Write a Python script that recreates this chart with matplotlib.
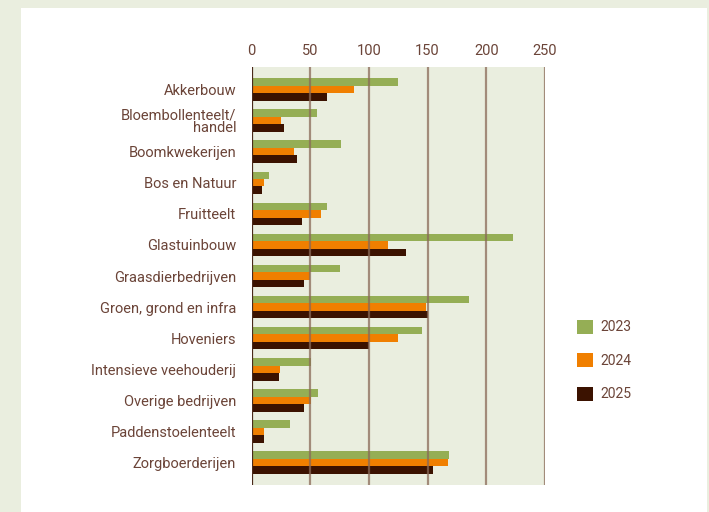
import numpy as np
import matplotlib.pyplot as plt
from matplotlib.patches import Rectangle

plt.rcParams["font.family"] = ["Roboto", "DejaVu Sans"]

categories = ["Akkerbouw", "Bloembollenteelt/\nhandel", "Boomkwekerijen", "Bos en Natuur",
              "Fruitteelt", "Glastuinbouw", "Graasdierbedrijven", "Groen, grond en infra",
              "Hoveniers", "Intensieve veehouderij", "Overige bedrijven",
              "Paddenstoelenteelt", "Zorgboerderijen"]
years = ["2023", "2024", "2025"]
v2023 = [125, 56, 76, 15, 64, 223, 75, 185, 145, 51, 57, 33, 168]
v2024 = [87, 25, 36, 11, 59, 116, 50, 149, 125, 24, 51, 11, 167]
v2025 = [64, 28, 39, 9, 43, 132, 45, 150, 100, 23, 45, 11, 155]
ticks = [0, 50, 100, 150, 200, 250]

colors = ["#95ae55", "#f07f00", "#3b1200"]
text_col = "#6b4438"
grid_col = "#8a6a58"
bg = "#eaeedf"

fig = plt.figure(figsize=(7.09, 5.12), dpi=100)
fig.patch.set_facecolor(bg)
# white panel
fig.add_artist(Rectangle((21 / 709, 0), (707 - 21) / 709, 1 - 8 / 512,
                         transform=fig.transFigure, facecolor="white",
                         edgecolor="none", zorder=0))

ax = fig.add_axes([251.5 / 709, 1 - 485 / 512, (545 - 251.5) / 709, (485 - 66.7) / 512])
ax.set_facecolor(bg)

y = np.arange(len(categories))
h = 0.24
for i, vals in enumerate([v2023, v2024, v2025]):
    ax.barh(y + (i - 1) * h, vals, height=h, color=colors[i], label=years[i], zorder=2)

ax.set_xlim(0, 250)
ax.set_ylim(len(categories) - 0.28, -0.73)
ax.set_xticks(ticks)
ax.xaxis.tick_top()
ax.set_yticks(y)
ax.set_yticklabels(categories, linespacing=0.95)
ax.tick_params(length=0, colors=text_col, labelsize=10.5)
ax.tick_params(axis="y", pad=11)
ax.tick_params(axis="x", pad=6)
for lab in ax.get_yticklabels():
    lab.set_horizontalalignment("right")

for t in ticks[1:]:
    ax.axvline(t, color=grid_col, lw=1.6, alpha=0.75, zorder=3)
for s in ax.spines.values():
    s.set_visible(False)
ax.axvline(0, color="#4a2a1a", lw=1.6, zorder=4)

leg = fig.legend(loc="upper left", bbox_to_anchor=(564 / 709, 1 - 307 / 512),
                 frameon=False, handlelength=1.2, handleheight=1.2,
                 labelspacing=1.35, handletextpad=0.5, fontsize=10)
for t in leg.get_texts():
    t.set_color(text_col)

fig.savefig("out.png", dpi=100, facecolor=fig.get_facecolor())
